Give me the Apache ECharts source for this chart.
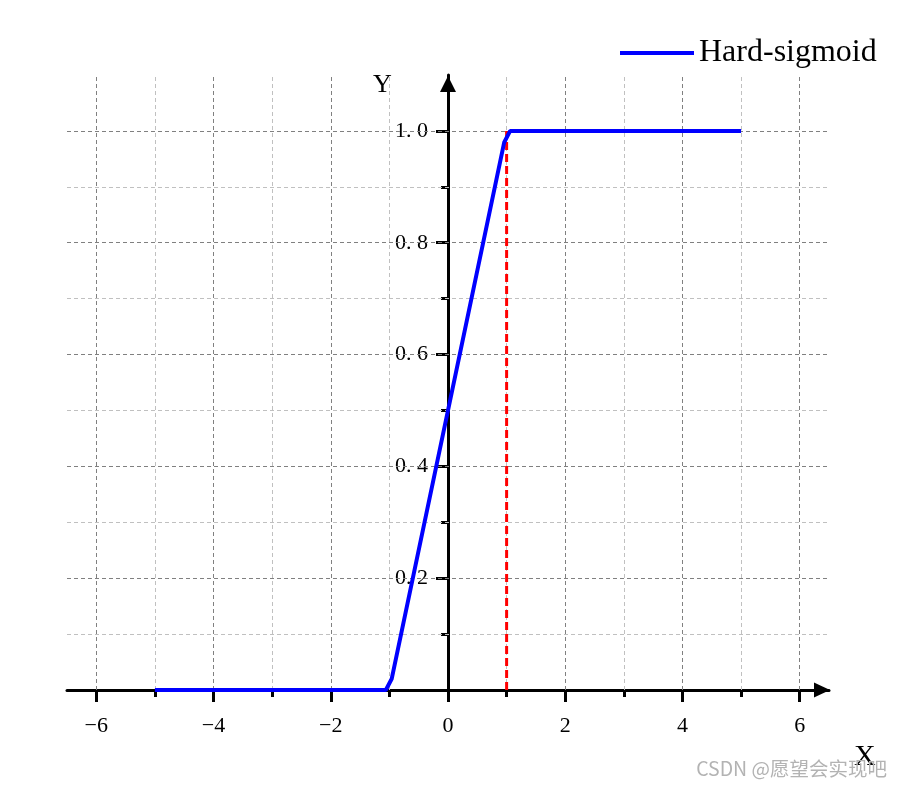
<!DOCTYPE html>
<html>
<head>
<meta charset="utf-8">
<title>Hard-sigmoid</title>
<script src="https://cdn.jsdelivr.net/npm/echarts@6/dist/echarts.min.js"></script>
<style>
  html, body { margin: 0; padding: 0; background: #fff; }
  #chart { width: 904px; height: 789px; }
</style>
</head>
<body>
<div id="chart"></div>
<script>
const curveX = [-5, -1.0606, -0.9596, 0.9596, 1.0606, 5];
const curveY = [0, 0, 0.0202, 0.9798, 1, 1];
// red dashed marker at x = 1
const markX = [1, 1];
const markY = [0, 1];

const xMajor = [-6, -4, -2, 0, 2, 4, 6];
const xMinor = [-5, -3, -1, 1, 3, 5];
const yMajor = [0, 0.2, 0.4, 0.6, 0.8, 1.0];
const yMinor = [0.1, 0.3, 0.5, 0.7, 0.9];
const yLabels = [0.2, 0.4, 0.6, 0.8, 1.0];

const serif = '"Liberation Serif", "Times New Roman", serif';
const darkGrid = { color: '#808080', width: 1, type: [4, 3] };
const lightGrid = { color: '#c0c0c0', width: 1, type: [4, 3] };
const tickStyle = { color: '#000', width: 3 };

// y axis sits on x = 0: grid is 67..829 px for -6.5..6.5
const yAxisShift = -381;

const chart = echarts.init(document.getElementById('chart'));

// grid lines as markLines so they sit on the same values as the ticks
const gridLines = [];
xMajor.filter(v => v !== 0).forEach(v => gridLines.push({ xAxis: v, lineStyle: darkGrid }));
xMinor.forEach(v => gridLines.push({ xAxis: v, lineStyle: lightGrid }));
yMajor.filter(v => v !== 0).forEach(v => gridLines.push({ yAxis: v, lineStyle: darkGrid }));
yMinor.forEach(v => gridLines.push({ yAxis: v, lineStyle: lightGrid }));

const axisCommon = {
    type: 'value',
    splitLine: { show: false },
    axisLine: { show: false },
    axisLabel: { show: false }
};

chart.setOption({
    animation: false,
    textStyle: { fontFamily: serif },
    grid: { left: 67, right: 75, top: 75, bottom: 99 },
    legend: {
        left: 620,
        top: 37,
        padding: 0,
        itemWidth: 74,
        itemHeight: 4,
        textStyle: { fontFamily: serif, fontSize: 32, color: '#000' },
        data: [{ name: 'Hard-sigmoid', icon: 'rect' }]
    },
    xAxis: [
        Object.assign({}, axisCommon, {
            min: -6.5, max: 6.5, position: 'bottom',
            axisLine: {
                show: true, onZero: false,
                lineStyle: { color: '#000', width: 3 },
                symbol: ['none', 'triangle'],
                symbolSize: [15, 16],
                symbolOffset: [0, -7]
            },
            axisTick: { show: true, customValues: xMajor, length: 12, lineStyle: tickStyle },
            axisLabel: {
                show: true, customValues: xMajor, margin: 25,
                fontFamily: serif, fontSize: 22, color: '#000',
                formatter: v => (v < 0 ? '\u2212' + Math.abs(v) : String(v))
            }
        }),
        Object.assign({}, axisCommon, {
            min: -6.5, max: 6.5, position: 'bottom',
            axisLine: { show: false, onZero: false },
            axisTick: { show: true, customValues: xMinor, length: 7, lineStyle: tickStyle }
        })
    ],
    yAxis: [
        Object.assign({}, axisCommon, {
            min: 0, max: 1.1, position: 'left', offset: yAxisShift,
            axisLine: {
                show: true, onZero: false,
                lineStyle: { color: '#000', width: 3 },
                symbol: ['none', 'triangle'],
                symbolSize: [16, 16],
                symbolOffset: [0, -9]
            },
            axisTick: { show: true, customValues: yMajor, length: 12, lineStyle: tickStyle },
            axisLabel: {
                show: true, customValues: yLabels, margin: 20,
                fontFamily: serif, fontSize: 22, color: '#000',
                formatter: v => v.toFixed(1).replace('.', '. ')
            }
        }),
        Object.assign({}, axisCommon, {
            min: 0, max: 1.1, position: 'left', offset: yAxisShift,
            axisLine: { show: false, onZero: false },
            axisTick: { show: true, customValues: yMinor, length: 7, lineStyle: tickStyle }
        })
    ],
    graphic: [
        { type: 'text', left: 854, top: 742, style: { text: 'X', font: '30px ' + serif, fill: '#000' } },
        { type: 'text', left: 373, top: 72, style: { text: 'Y', font: '26px ' + serif, fill: '#000' } },
        { type: 'text', right: 17, top: 759, style: { text: 'CSDN @愿望会实现吧', font: '19.5px "Noto Sans CJK SC", sans-serif', fill: '#b3b3b3' } }
    ],
    series: [
        {
            name: 'grid',
            type: 'line',
            data: [],
            silent: true,
            z: 1,
            markLine: {
                silent: true,
                z: 1,
                symbol: ['none', 'none'],
                label: { show: false },
                animation: false,
                data: gridLines
            }
        },
        {
            name: 'Hard-sigmoid',
            type: 'line',
            showSymbol: false,
            z: 4,
            color: '#0000ff',
            lineStyle: { color: '#0000ff', width: 4 },
            data: curveX.map((x, i) => [x, curveY[i]])
        },
        {
            name: 'marker',
            type: 'line',
            showSymbol: false,
            z: 3,
            lineStyle: { color: '#ff0000', width: 3, type: [8, 4] },
            data: markX.map((x, i) => [x, markY[i]])
        }
    ]
});
</script>
</body>
</html>
